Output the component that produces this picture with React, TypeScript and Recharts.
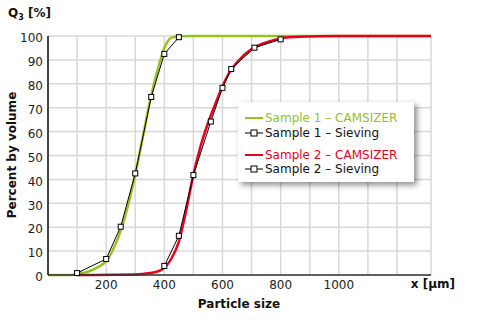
import React from 'react';
import { LineChart, Line, XAxis, YAxis, CartesianGrid, Legend, Label } from 'recharts';

// size in µm, Q3 in %
const camsizer1 = [
  { x: 0, y: 0 }, { x: 80, y: 0 }, { x: 100, y: 0.5 }, { x: 125, y: 1 }, { x: 150, y: 2 },
  { x: 175, y: 3.5 }, { x: 200, y: 5.8 }, { x: 225, y: 11 }, { x: 250, y: 18.5 },
  { x: 275, y: 29 }, { x: 300, y: 42 }, { x: 325, y: 57 }, { x: 350, y: 72.5 },
  { x: 375, y: 85 }, { x: 400, y: 95 }, { x: 410, y: 97.5 }, { x: 425, y: 99.3 },
  { x: 450, y: 99.9 }, { x: 500, y: 100 }, { x: 1317, y: 100 },
];
const sieving1 = [
  { x: 100, y: 0.8 }, { x: 200, y: 6.7 }, { x: 250, y: 20.2 }, { x: 300, y: 42.5 },
  { x: 355, y: 74.5 }, { x: 400, y: 92.5 }, { x: 450, y: 99.5 },
];
const camsizer2 = [
  { x: 100, y: 0 }, { x: 300, y: 0.2 }, { x: 350, y: 0.8 }, { x: 380, y: 1.6 }, { x: 400, y: 3 },
  { x: 425, y: 7 }, { x: 450, y: 14 }, { x: 475, y: 27 }, { x: 500, y: 42 }, { x: 525, y: 54 },
  { x: 550, y: 63.5 }, { x: 575, y: 71.5 }, { x: 600, y: 79 }, { x: 625, y: 85 },
  { x: 650, y: 89 }, { x: 700, y: 94.5 }, { x: 750, y: 97.3 }, { x: 800, y: 99 },
  { x: 850, y: 99.6 }, { x: 900, y: 99.8 }, { x: 1000, y: 100 }, { x: 1317, y: 100 },
];
const sieving2 = [
  { x: 400, y: 3.8 }, { x: 450, y: 16.4 }, { x: 500, y: 41.8 }, { x: 560, y: 64.2 },
  { x: 600, y: 78.3 }, { x: 630, y: 86.2 }, { x: 710, y: 95.1 }, { x: 800, y: 98.6 },
];

const xTicks = [0, 100, 200, 300, 400, 500, 600, 700, 800, 900, 1000, 1100, 1200, 1317];
const xLabels = [200, 400, 600, 800, 1000];
const yTicks = [0, 10, 20, 30, 40, 50, 60, 70, 80, 90, 100];

const font = '"DejaVu Sans", Verdana, sans-serif';
const green = '#96c11f';
const red = '#e8001c';

const Square = (props: any) => {
  const { cx, cy, index } = props;
  return <rect key={'sq' + index} x={cx - 2.5} y={cy - 2.5} width={5} height={5} fill="#fff" stroke="#000" strokeWidth={1} />;
};

function LegendBox() {
  const row = (top: number, color: string, text: string, square: boolean) => (
    <div style={{ position: 'absolute', left: 7, top, height: 14, display: 'flex', alignItems: 'center' }}>
      <svg width={18} height={10} style={{ display: 'block' }}>
        <line x1={0} y1={5} x2={18} y2={5} stroke={square ? '#000' : color} strokeWidth={square ? 1 : 2} />
        {square && <rect x={6} y={2} width={6} height={6} fill="#fff" stroke="#000" />}
      </svg>
      <span style={{ marginLeft: 2, color, whiteSpace: 'nowrap' }}>{text}</span>
    </div>
  );
  return (
    <div style={{ position: 'relative', width: 176, height: 80, background: '#fff', boxShadow: '3px 3px 6px rgba(0,0,0,0.45)', fontFamily: font, fontSize: 12 }}>
      {row(9, green, 'Sample 1 – CAMSIZER', false)}
      {row(24, '#111', 'Sample 1 – Sieving', true)}
      {row(46, red, 'Sample 2 – CAMSIZER', false)}
      {row(60, '#111', 'Sample 2 – Sieving', true)}
    </div>
  );
}

export default function App() {
  return (
    <div style={{ position: 'absolute', left: 0, top: 0 }}>
      <LineChart width={478} height={320} margin={{ top: 36, right: 47, bottom: 15, left: 8 }}>
        <CartesianGrid stroke="#d8d8d8" strokeWidth={1.5} />
        <XAxis
          type="number"
          dataKey="x"
          domain={[0, 1317]}
          ticks={xTicks}
          interval={0}
          height={30}
          tickLine={false}
          tickSize={0}
          tickMargin={5}
          tickFormatter={(v: number) => (xLabels.includes(v) ? String(v) : '')}
          tick={{ fill: '#222', fontSize: 12, fontFamily: font }}
          axisLine={{ stroke: '#333', strokeWidth: 1.5 }}
        >
          <Label content={() => (
            <text x={239} y={308} textAnchor="middle" fontFamily={font} fontSize={12} fontWeight="bold" fill="#111">Particle size</text>
          )} />
          <Label content={() => (
            <text x={455} y={288} textAnchor="end" fontFamily={font} fontSize={12} fontWeight="bold" fill="#111">x [µm]</text>
          )} />
        </XAxis>
        <YAxis
          type="number"
          domain={[0, 100]}
          ticks={yTicks}
          interval={0}
          width={40}
          tickLine={false}
          tickSize={0}
          tickMargin={5}
          tick={{ fill: '#222', fontSize: 12, fontFamily: font, dy: 2 }}
          axisLine={{ stroke: '#111', strokeWidth: 1.5 }}
        >
          <Label content={() => (
            <text x={16} y={155} transform="rotate(-90 16 155)" textAnchor="middle" fontFamily={font} fontSize={12} fontWeight="bold" fill="#111">Percent by volume</text>
          )} />
          <Label content={() => (
            <text x={8} y={17} fontFamily={font} fontSize={12} fontWeight="bold" fill="#111">
              Q<tspan fontSize={8} dy={3}>3</tspan><tspan dy={-3}> [%]</tspan>
            </text>
          )} />
        </YAxis>
        <Legend
          layout="vertical"
          align="center"
          verticalAlign="middle"
          wrapperStyle={{ left: 238, top: 102, width: 176, height: 80 }}
          content={() => <LegendBox />}
        />
        <Line data={camsizer1} dataKey="y" type="monotone" stroke={green} strokeWidth={2.5} dot={false} isAnimationActive={false} />
        <Line data={camsizer2} dataKey="y" type="monotone" stroke={red} strokeWidth={2.5} dot={false} isAnimationActive={false} />
        <Line data={sieving1} dataKey="y" type="linear" stroke="#000" strokeWidth={1} dot={Square} isAnimationActive={false} />
        <Line data={sieving2} dataKey="y" type="linear" stroke="#000" strokeWidth={1} dot={Square} isAnimationActive={false} />
      </LineChart>
    </div>
  );
}
